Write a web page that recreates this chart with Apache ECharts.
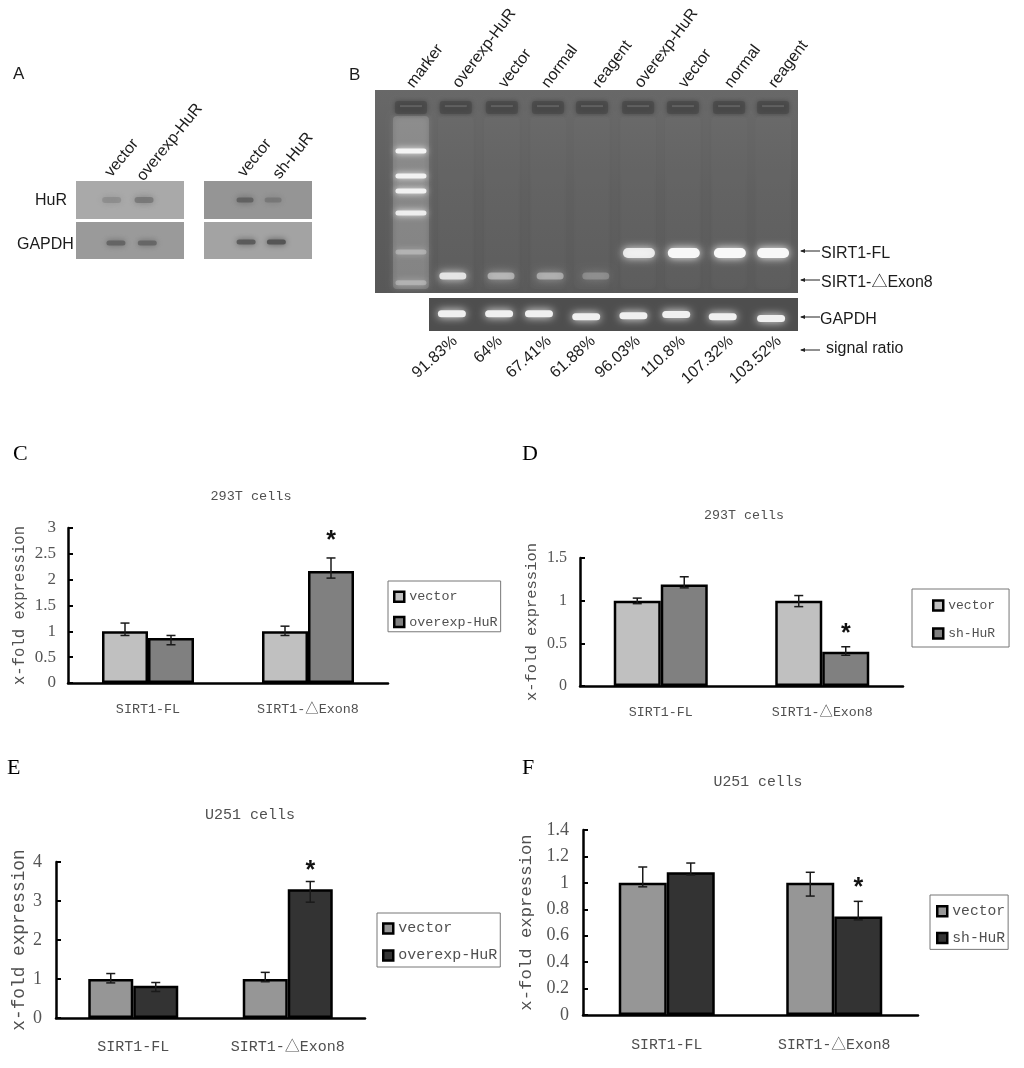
<!DOCTYPE html>
<html>
<head>
<meta charset="utf-8">
<title>HuR SIRT1</title>
<script src="https://cdn.jsdelivr.net/npm/echarts@6/dist/echarts.min.js"></script>
<style>
  html, body { margin: 0; padding: 0; background: #fff; }
  #main { width: 1024px; height: 1068px; }
</style>
</head>
<body>
<div id="main"></div>
<script>
// bar charts C-F
const categories = ['SIRT1-FL', 'SIRT1-△Exon8'];

const cVector = [1, 1];
const cTreated = [0.87, 2.17];
const cVectorErr = [[0.92, 1.16], [0.92, 1.1]];
const cTreatedErr = [[0.74, 0.92], [2.03, 2.42]];
const cStars = [null, 2.8];

const dVector = [1, 1];
const dTreated = [1.19, 0.4];
const dVectorErr = [[0.965, 1.03], [0.93, 1.06]];
const dTreatedErr = [[1.15, 1.28], [0.36, 0.46]];
const dStars = [null, 0.64];

const eVector = [1, 1];
const eTreated = [0.83, 3.3];
const eVectorErr = [[0.9, 1.14], [0.93, 1.17]];
const eTreatedErr = [[0.68, 0.91], [2.97, 3.5]];
const eStars = [null, 3.85];

const fVector = [1, 1];
const fTreated = [1.08, 0.745];
const fVectorErr = [[0.97, 1.12], [0.9, 1.08]];
const fTreatedErr = [[1.06, 1.15], [0.72, 0.86]];
const fStars = [null, 0.98];

// gels: lane position and migration as % of the gel, then band strength
const gelBLabels = ['marker', 'overexp-HuR', 'vector', 'normal', 'reagent', 'overexp-HuR', 'vector', 'normal', 'reagent'];
const gelBWellX = [8.5, 19.1, 30, 40.9, 51.3, 62.2, 72.8, 83.7, 94.1];
const gelBMarkerY = [30, 42.4, 49.8, 60.6, 79.8, 95];
const gelBMarkerI = [1, 0.95, 0.95, 0.9, 0.3, 0.3];
const gelBExonX = [18.4, 29.8, 41.4, 52.2];
const gelBExonI = [0.95, 0.5, 0.45, 0.25];
const gelBFlX = [62.4, 73, 83.9, 94.1];
const gelBFlI = [0.85, 1, 1, 1];
const gapdhBX = [6.2, 19, 29.8, 42.6, 55.4, 67, 79.6, 92.7];
const gapdhBY = [48, 48, 48, 57, 54, 50, 57, 62];
const signalRatio = ['91.83%', '64%', '67.41%', '61.88%', '96.03%', '110.8%', '107.32%', '103.52%'];

const hurLeft = [[33, 50, 0.35], [63, 50, 0.7]];
const gapdhLeft = [[37, 57, 0.85], [66, 57, 0.8]];
const hurRight = [[38, 50, 0.8], [64, 50, 0.4]];
const gapdhRight = [[39, 54, 0.85], [67, 54, 1]];

const MONO = "'Liberation Mono','Noto Sans CJK SC'";
const SANS = "'Liberation Sans'";
const SERIF = "'Liberation Serif'";
const TEXT_GREY = '#505050';

const option = {
  animation: false,
  backgroundColor: '#fff',
  title: [], legend: [], grid: [], xAxis: [], yAxis: [], series: [], graphic: []
};

// error bar + optional star for one bar group
function errorSeries(idx, side, barWidth, err, stars) {
  return {
    type: 'custom',
    xAxisIndex: idx,
    yAxisIndex: idx,
    z: 5,
    clip: false,
    silent: true,
    data: err.map((e, i) => [i, e[0], e[1], stars ? stars[i] : null]),
    encode: { x: 0, y: [1, 2] },
    renderItem: function (params, api) {
      const base = api.coord([api.value(0), 0]);
      const x = base[0] + side * barWidth / 2;
      const lo = api.coord([api.value(0), api.value(1)])[1];
      const hi = api.coord([api.value(0), api.value(2)])[1];
      const lineStyle = { stroke: '#1a1a1a', lineWidth: 1.5 };
      const children = [
        { type: 'line', shape: { x1: x, y1: lo, x2: x, y2: hi }, style: lineStyle },
        { type: 'line', shape: { x1: x - 4.5, y1: lo, x2: x + 4.5, y2: lo }, style: lineStyle },
        { type: 'line', shape: { x1: x - 4.5, y1: hi, x2: x + 4.5, y2: hi }, style: lineStyle }
      ];
      const star = stars ? stars[api.value(0)] : null;
      if (star != null) {
        children.push({
          type: 'text',
          x: x,
          y: api.coord([api.value(0), star])[1] + 3,
          style: { text: '*', font: "bold 25px 'Liberation Sans'", fill: '#111', align: 'center', verticalAlign: 'middle' }
        });
      }
      return { type: 'group', children: children };
    }
  };
}

function addBarPanel(p) {
  const idx = option.grid.length;
  option.grid.push({ left: p.left, top: p.top, width: p.width, height: p.height });
  option.xAxis.push({
    type: 'category',
    gridIndex: idx,
    data: categories,
    axisLine: { lineStyle: { color: '#000', width: 2.5 } },
    axisTick: { show: false },
    axisLabel: { fontFamily: MONO, fontSize: p.font, color: TEXT_GREY, margin: p.labelMargin, interval: 0 }
  });
  option.yAxis.push({
    type: 'value',
    gridIndex: idx,
    min: 0,
    max: p.max,
    interval: p.interval,
    name: 'x-fold expression',
    nameLocation: 'middle',
    nameRotate: 90,
    nameGap: p.nameGap,
    nameTextStyle: { fontFamily: MONO, fontSize: p.nameFont, color: TEXT_GREY },
    splitLine: { show: false },
    axisLine: { show: true, lineStyle: { color: '#000', width: 2.5 } },
    axisTick: { show: true, inside: true, length: 5, lineStyle: { color: '#000', width: 2 } },
    axisLabel: { fontFamily: SERIF, fontSize: p.tickFont, color: '#555', margin: p.tickMargin }
  });
  const barStyle = (color) => ({ color: color, borderColor: '#000', borderWidth: 2.5 });
  option.series.push(
    { type: 'bar', name: 'vector', xAxisIndex: idx, yAxisIndex: idx, data: p.vector, barWidth: p.barWidth, barGap: 0, itemStyle: barStyle(p.colors[0]) },
    { type: 'bar', name: p.treatedName, xAxisIndex: idx, yAxisIndex: idx, data: p.treated, barWidth: p.barWidth, barGap: 0, itemStyle: barStyle(p.colors[1]) },
    errorSeries(idx, -1, p.barWidth, p.vectorErr, null),
    errorSeries(idx, 1, p.barWidth, p.treatedErr, p.stars)
  );
  option.title.push({
    text: p.title,
    left: p.titleX,
    top: p.titleY,
    padding: 0,
    textAlign: 'center',
    textStyle: { fontFamily: MONO, fontSize: p.titleFont, fontWeight: 'normal', color: TEXT_GREY }
  });
  option.title.push({
    text: p.letter,
    left: p.letterX,
    top: p.letterY,
    padding: 0,
    textStyle: { fontFamily: SERIF, fontSize: 22, fontWeight: 'normal', color: '#000' }
  });
  const legendItem = (name, color) => ({
    name: name,
    icon: 'rect',
    itemStyle: { color: color, borderColor: '#000', borderWidth: 2.5 }
  });
  option.legend.push({
    left: p.legend.x,
    top: p.legend.y,
    orient: 'vertical',
    padding: p.legend.padding,
    itemGap: p.legend.gap,
    itemWidth: 10,
    itemHeight: 10,
    selectedMode: false,
    backgroundColor: '#fff',
    borderColor: '#777',
    borderWidth: 1,
    textStyle: { fontFamily: MONO, fontSize: p.legend.font, color: TEXT_GREY },
    data: [legendItem('vector', p.colors[0]), legendItem(p.treatedName, p.colors[1])]
  });
}

addBarPanel({
  letter: 'C', letterX: 13, letterY: 443, title: '293T cells', titleX: 251, titleY: 490, titleFont: 13.5,
  left: 68, top: 528, width: 320, height: 155, max: 3, interval: 0.5, barWidth: 46, font: 13.4, tickFont: 17, tickMargin: 12, labelMargin: 20, nameFont: 15.6, nameGap: 40,
  vector: cVector, treated: cTreated, vectorErr: cVectorErr, treatedErr: cTreatedErr, stars: cStars,
  treatedName: 'overexp-HuR', colors: ['#c0c0c0', '#808080'],
  legend: { x: 388, y: 581, padding: [9, 3, 3, 5], gap: 12, font: 13.4 }
});
addBarPanel({
  letter: 'D', letterX: 522, letterY: 443, title: '293T cells', titleX: 744, titleY: 509, titleFont: 13.3,
  left: 580, top: 558, width: 323, height: 128, max: 1.5, interval: 0.5, barWidth: 47, font: 13.3, tickFont: 16, tickMargin: 13, labelMargin: 20, nameFont: 15.5, nameGap: 40,
  vector: dVector, treated: dTreated, vectorErr: dVectorErr, treatedErr: dTreatedErr, stars: dStars,
  treatedName: 'sh-HuR', colors: ['#c0c0c0', '#808080'],
  legend: { x: 912, y: 589, padding: [10, 14, 7, 20], gap: 15, font: 13 }
});
addBarPanel({
  letter: 'E', letterX: 7, letterY: 757, title: 'U251 cells', titleX: 250, titleY: 808, titleFont: 15,
  left: 56, top: 862, width: 309, height: 156, max: 4, interval: 1, barWidth: 45, font: 15, tickFont: 18, tickMargin: 14, labelMargin: 22, nameFont: 17.8, nameGap: 28,
  vector: eVector, treated: eTreated, vectorErr: eVectorErr, treatedErr: eTreatedErr, stars: eStars,
  treatedName: 'overexp-HuR', colors: ['#969696', '#333333'],
  legend: { x: 377, y: 913, padding: [8, 3, 4, 5], gap: 12, font: 15 }
});
addBarPanel({
  letter: 'F', letterX: 522, letterY: 757, title: 'U251 cells', titleX: 758, titleY: 775, titleFont: 14.8,
  left: 583, top: 830, width: 335, height: 185, max: 1.4, interval: 0.2, barWidth: 48, font: 14.8, tickFont: 18, tickMargin: 14, labelMargin: 23, nameFont: 17.3, nameGap: 48,
  vector: fVector, treated: fTreated, vectorErr: fVectorErr, treatedErr: fTreatedErr, stars: fStars,
  treatedName: 'sh-HuR', colors: ['#969696', '#333333'],
  legend: { x: 930, y: 895, padding: [9, 3, 4, 6], gap: 12, font: 14.7 }
});

// gel image: hidden 0-100 axes, y runs downwards
function addGelGrid(left, top, width, height, background) {
  const idx = option.grid.length;
  option.grid.push({ left: left, top: top, width: width, height: height, show: true, borderWidth: 0, backgroundColor: background, z: 0 });
  option.xAxis.push({ type: 'value', gridIndex: idx, min: 0, max: 100, show: false });
  option.yAxis.push({ type: 'value', gridIndex: idx, min: 0, max: 100, inverse: true, show: false });
  return idx;
}

function bandSeries(idx, data, w, h, color, blur, z) {
  return {
    type: 'custom',
    xAxisIndex: idx,
    yAxisIndex: idx,
    z: z || 3,
    clip: false,
    silent: true,
    data: data,
    encode: { x: 0, y: 1 },
    renderItem: function (params, api) {
      const c = api.coord([api.value(0), api.value(1)]);
      return {
        type: 'rect',
        shape: { x: c[0] - w / 2, y: c[1] - h / 2, width: w, height: h, r: h / 2 },
        style: { fill: color, opacity: api.value(2), shadowBlur: blur, shadowColor: color }
      };
    }
  };
}

// smear columns and wells along the lanes of gel B
function laneSeries(idx, laneX) {
  return {
    type: 'custom',
    xAxisIndex: idx,
    yAxisIndex: idx,
    z: 2,
    clip: false,
    silent: true,
    data: laneX.map((x, i) => [x, i]),
    encode: { x: 0 },
    renderItem: function (params, api) {
      const isMarker = api.value(1) === 0;
      const well = api.coord([api.value(0), 8.4]);
      const bottom = api.coord([api.value(0), 98])[1];
      const strip = isMarker ? 36 : 36;
      return {
        type: 'group',
        children: [
          { type: 'rect', shape: { x: well[0] - strip / 2, y: well[1] + 9, width: strip, height: bottom - well[1] - 9, r: 4 },
            style: { fill: '#fff', opacity: isMarker ? 0.14 : 0.015, shadowBlur: 6, shadowColor: '#fff' } },
          { type: 'rect', shape: { x: well[0] - 16, y: well[1] - 6, width: 32, height: 13, r: 3 },
            style: { fill: '#474747', opacity: 0.65, shadowBlur: 5, shadowColor: '#3a3a3a' } },
          { type: 'rect', shape: { x: well[0] - 11, y: well[1] - 2, width: 22, height: 2 },
            style: { fill: '#777', opacity: 0.5 } }
        ]
      };
    }
  };
}

const leftHuR = addGelGrid(76, 181, 108, 38, '#a9a9a9');
const leftGapdh = addGelGrid(76, 222, 108, 37, '#9a9a9a');
const rightHuR = addGelGrid(204, 181, 108, 38, '#959595');
const rightGapdh = addGelGrid(204, 222, 108, 37, '#a3a3a3');
option.series.push(
  bandSeries(leftHuR, hurLeft, 19, 6, '#6e6e6e', 7),
  bandSeries(leftGapdh, gapdhLeft, 19, 5, '#5f5f5f', 6),
  bandSeries(rightHuR, hurRight, 17, 5, '#5a5a5a', 7),
  bandSeries(rightGapdh, gapdhRight, 19, 5, '#555', 6)
);

const gelB = addGelGrid(375, 90, 423, 203, new echarts.graphic.LinearGradient(0, 0, 0, 1, [
  { offset: 0, color: '#686868' },
  { offset: 0.5, color: '#5e5e5e' },
  { offset: 1, color: '#585858' }
]));
const gelC = addGelGrid(429, 298, 369, 33, '#4e4e4e');
option.series.push(
  laneSeries(gelB, gelBWellX),
  bandSeries(gelB, gelBMarkerY.map((y, i) => [gelBWellX[0], y, gelBMarkerI[i]]), 31, 5, '#f4f4f4', 6),
  bandSeries(gelB, gelBExonX.map((x, i) => [x, 91.6, gelBExonI[i]]), 27, 7, '#e8e8e8', 8),
  bandSeries(gelB, gelBFlX.map((x, i) => [x, 80.3, gelBFlI[i]]), 32, 10, '#f8f8f8', 9),
  bandSeries(gelC, gapdhBX.map((x, i) => [x, gapdhBY[i], 1]), 28, 7, '#f0f0f0', 8)
);

// rotated lane labels and the annotations round the gels
function rotated(text, x, y, deg, align, vAlign) {
  return {
    type: 'text', x: x, y: y, rotation: deg * Math.PI / 180, z: 10,
    style: { text: text, font: '16px ' + SANS, fill: '#1c1c1c', align: align, verticalAlign: vAlign }
  };
}
function plain(text, x, y, size, font) {
  return {
    type: 'text', x: x, y: y, z: 10,
    style: { text: text, font: (size || 16) + 'px ' + (font || SANS), fill: '#1c1c1c', align: 'left', verticalAlign: 'middle' }
  };
}
function arrow(x1, x2, y) {
  return {
    type: 'group', z: 10,
    children: [
      { type: 'line', shape: { x1: x1, y1: y, x2: x2, y2: y }, style: { stroke: '#222', lineWidth: 1 } },
      { type: 'polygon', shape: { points: [[x1 - 1, y], [x1 + 4, y - 2], [x1 + 4, y + 2]] }, style: { fill: '#222' } }
    ]
  };
}

const gelALabelX = [108, 140, 241, 276];
const gelALabelY = [175, 179, 175, 177];
const gelALabels = ['vector', 'overexp-HuR', 'vector', 'sh-HuR'];
const gelBLabelX = [410, 456, 502, 545, 596, 638, 682, 728, 772];
const gelBLabelY = [86, 86, 86, 86, 86, 86, 86, 86, 86];
const ratioX = [455, 500, 549, 593, 638, 683, 731, 779];

gelALabels.forEach((t, i) => option.graphic.push(rotated(t, gelALabelX[i], gelALabelY[i], 51, 'left', 'middle')));
gelBLabels.forEach((t, i) => option.graphic.push(rotated(t, gelBLabelX[i], gelBLabelY[i], 53, 'left', 'middle')));
signalRatio.forEach((t, i) => option.graphic.push(rotated(t, ratioX[i], 339, 42, 'right', 'middle')));

option.graphic.push(
  plain('A', 13, 74, 17),
  plain('B', 349, 75, 17),
  plain('HuR', 35, 201),
  plain('GAPDH', 17, 245),
  plain('SIRT1-FL', 821, 254),
  plain('SIRT1-△Exon8', 821, 283, 16, SANS + ",'Noto Sans CJK SC'"),
  plain('GAPDH', 820, 320),
  plain('signal ratio', 826, 349),
  arrow(801, 820, 251),
  arrow(801, 820, 280),
  arrow(801, 820, 317),
  arrow(801, 820, 350)
);

const chart = echarts.init(document.getElementById('main'), null, { renderer: 'canvas' });
chart.setOption(option);
</script>
</body>
</html>
